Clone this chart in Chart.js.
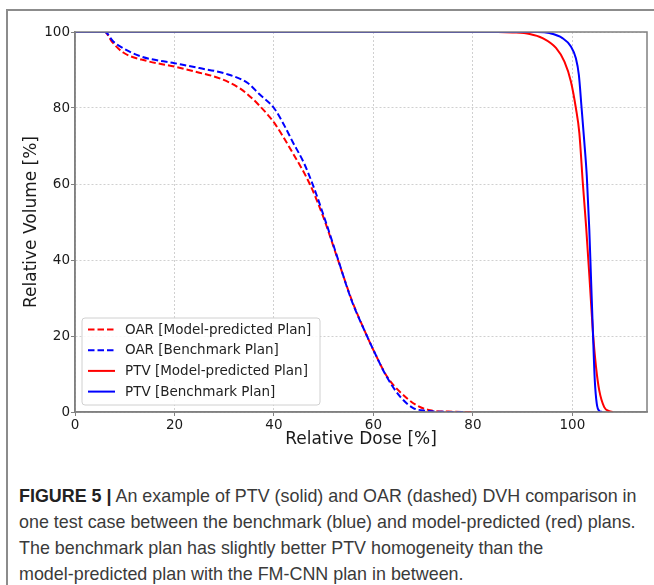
<!DOCTYPE html>
<html>
<head>
<meta charset="utf-8">
<script src="https://cdn.jsdelivr.net/npm/chart.js@4.4.1/dist/chart.umd.min.js"></script>
<style>
  html, body { margin: 0; padding: 0; background: #fff; }
  #page { position: relative; width: 654px; height: 585px; overflow: hidden; }
  #frameTop { position: absolute; left: 6px; top: 9px; width: 648px; height: 2px; background: #8c8c8c; }
  #frameLeft { position: absolute; left: 6px; top: 9px; width: 2px; height: 576px; background: #8c8c8c; }
  #chartBox { position: absolute; left: 0; top: 0; width: 654px; height: 460px; }
  #caption {
    position: absolute; left: 19px; top: 483px; width: 634px;
    font-family: "Liberation Sans", Arial, sans-serif; font-size: 17.9px; line-height: 26px;
    color: #3a3a3a; white-space: nowrap;
  }
  #caption b { color: #222; }
</style>
</head>
<body>
<div id="page">
  <div id="frameTop"></div>
  <div id="frameLeft"></div>
  <div id="chartBox"><canvas id="dvhChart"></canvas></div>
  <div id="caption">
    <div><b>FIGURE 5 |</b> An example of PTV (solid) and OAR (dashed) DVH comparison in</div>
    <div>one test case between the benchmark (blue) and model-predicted (red) plans.</div>
    <div>The benchmark plan has slightly better PTV homogeneity than the</div>
    <div>model-predicted plan with the FM-CNN plan in between.</div>
  </div>
</div>
<script>
// Relative dose [%] / relative volume [%]
const oarModelDose = [0, 6, 7.4, 9.7, 14.4, 20, 25, 29.1, 33.1, 35.8, 37.1, 38.5, 40, 43.8, 47.2, 49.9, 52.8, 55.6, 58.7, 60, 62.7, 65.4, 68.7, 71.4, 75, 80];
const oarModelVol = [100, 100, 97.5, 94.6, 92.4, 90.9, 89.3, 87.8, 85.2, 82.3, 80.6, 78.6, 76.2, 68.1, 60, 51.4, 40.3, 29.6, 20, 16.3, 9.4, 5.2, 1.76, 0.44, 0.1, 0];

const oarBenchDose = [0, 6, 7.7, 10, 13.4, 20, 25, 30.4, 34.8, 37.1, 40, 42, 43.8, 46, 47.9, 50.5, 52.8, 55.6, 58.7, 60, 62.7, 65.4, 68, 70.7, 74, 78];
const oarBenchVol = [100, 100, 97.5, 95.5, 93.5, 91.8, 90.5, 89, 86.5, 83.6, 80, 75.6, 71, 65.6, 59.5, 49.7, 40.5, 29.4, 20, 16.3, 9.2, 4, 1.05, 0.3, 0.05, 0];

const ptvModelDose = [0, 85, 88, 91.4, 94, 96.7, 98.4, 99.7, 100.7, 101.4, 102.1, 102.75, 103.55, 104.1, 104.75, 105.4, 106.4, 107.4, 108.1];
const ptvModelVol = [100, 100, 99.9, 99.5, 98.4, 95.8, 92.2, 87, 80, 73.4, 60.2, 49, 33, 21.5, 11.9, 5.7, 1.3, 0.2, 0];

const ptvBenchDose = [0, 93, 95.4, 98, 99.7, 100.7, 101.3, 101.85, 102.4, 102.9, 103.4, 103.75, 104.1, 104.5, 104.9, 105.4, 106];
const ptvBenchVol = [100, 100, 99.7, 98.4, 96.2, 93.1, 88.7, 80, 71, 62, 48, 35, 22, 8.4, 2.2, 0.3, 0];

const seriesLabels = ["OAR [Model-predicted Plan]", "OAR [Benchmark Plan]", "PTV [Model-predicted Plan]", "PTV [Benchmark Plan]"];
const xTicks = [0, 20, 40, 60, 80, 100];
const yTicks = [0, 20, 40, 60, 80, 100];

const RED = "#ff0000";
const BLUE = "#0000ff";
const DASH = [6.5, 3];

function toPoints(xs, ys) {
  return xs.map((x, i) => ({ x: x, y: ys[i] }));
}

// box around the plot area (matplotlib spines)
const plotFrame = {
  id: "plotFrame",
  afterDatasetsDraw(chart) {
    const { ctx, chartArea: a } = chart;
    ctx.save();
    ctx.strokeStyle = "#808080";
    ctx.lineWidth = 1.5;
    ctx.strokeRect(a.left, a.top, a.right - a.left, a.bottom - a.top);
    ctx.restore();
  },
};

// matplotlib-like framed legend in the lower left corner
const boxLegend = {
  id: "boxLegend",
  afterDraw(chart) {
    const { ctx, chartArea: a } = chart;
    const left = a.left + 7;
    const width = 238;
    const height = 87;
    const top = a.bottom - 7 - height;
    ctx.save();
    ctx.beginPath();
    ctx.roundRect(left, top, width, height, 3);
    ctx.fillStyle = "rgba(255,255,255,0.85)";
    ctx.fill();
    ctx.strokeStyle = "#d0d0d0";
    ctx.lineWidth = 1;
    ctx.stroke();
    ctx.font = "13.5px 'DejaVu Sans'";
    ctx.textBaseline = "middle";
    chart.data.datasets.forEach((ds, i) => {
      const y = top + 11.5 + i * 20.7;
      ctx.beginPath();
      ctx.strokeStyle = ds.borderColor;
      ctx.lineWidth = 2;
      ctx.setLineDash(ds.borderDash || []);
      ctx.moveTo(left + 6, y);
      ctx.lineTo(left + 33, y);
      ctx.stroke();
      ctx.setLineDash([]);
      ctx.fillStyle = "#222";
      ctx.fillText(ds.label, left + 43, y + 0.5);
    });
    ctx.restore();
  },
};

const baseLine = { showLine: true, pointRadius: 0, borderWidth: 2, fill: false, cubicInterpolationMode: "monotone" };
const tickFont = { family: "DejaVu Sans", size: 13.5 };

new Chart(document.getElementById("dvhChart"), {
  type: "scatter",
  data: {
    datasets: [
      { ...baseLine, label: seriesLabels[0], data: toPoints(oarModelDose, oarModelVol), borderColor: RED, borderDash: DASH, order: 4 },
      { ...baseLine, label: seriesLabels[1], data: toPoints(oarBenchDose, oarBenchVol), borderColor: BLUE, borderDash: DASH, order: 3 },
      { ...baseLine, label: seriesLabels[2], data: toPoints(ptvModelDose, ptvModelVol), borderColor: RED, order: 2 },
      { ...baseLine, label: seriesLabels[3], data: toPoints(ptvBenchDose, ptvBenchVol), borderColor: BLUE, order: 1 },
    ],
  },
  options: {
    responsive: true,
    maintainAspectRatio: false,
    animation: false,
    layout: { padding: { left: 8, top: 32, right: 7, bottom: 0 } },
    plugins: { legend: { display: false }, tooltip: { enabled: false } },
    scales: {
      x: {
        type: "linear",
        min: 0,
        max: 115,
        afterFit: (s) => { s.height = 48; },
        afterBuildTicks: (s) => { s.ticks = xTicks.map((v) => ({ value: v })); },
        ticks: { color: "#1a1a1a", font: tickFont, padding: 1, maxRotation: 0 },
        grid: { color: "#d0d0d0", tickColor: "#808080", tickLength: 4, tickBorderDash: [], lineWidth: 1 },
        border: { color: "#808080", width: 1.5, dash: [2, 2] },
        title: { display: true, text: "Relative Dose [%]", color: "#1a1a1a", font: { family: "DejaVu Sans", size: 17 }, padding: { top: 0, bottom: 10 } },
      },
      y: {
        type: "linear",
        min: 0,
        max: 100,
        afterFit: (s) => { s.width = 67; },
        afterBuildTicks: (s) => { s.ticks = yTicks.map((v) => ({ value: v })); },
        ticks: { color: "#1a1a1a", font: tickFont, padding: 1 },
        grid: { color: "#d0d0d0", tickColor: "#808080", tickLength: 4, tickBorderDash: [], lineWidth: 1 },
        border: { color: "#808080", width: 1.5, dash: [2, 2] },
        title: { display: true, text: "Relative Volume [%]", color: "#1a1a1a", font: { family: "DejaVu Sans", size: 17 }, padding: { top: 13, bottom: 0 } },
      },
    },
  },
  plugins: [plotFrame, boxLegend],
});
</script>
</body>
</html>
